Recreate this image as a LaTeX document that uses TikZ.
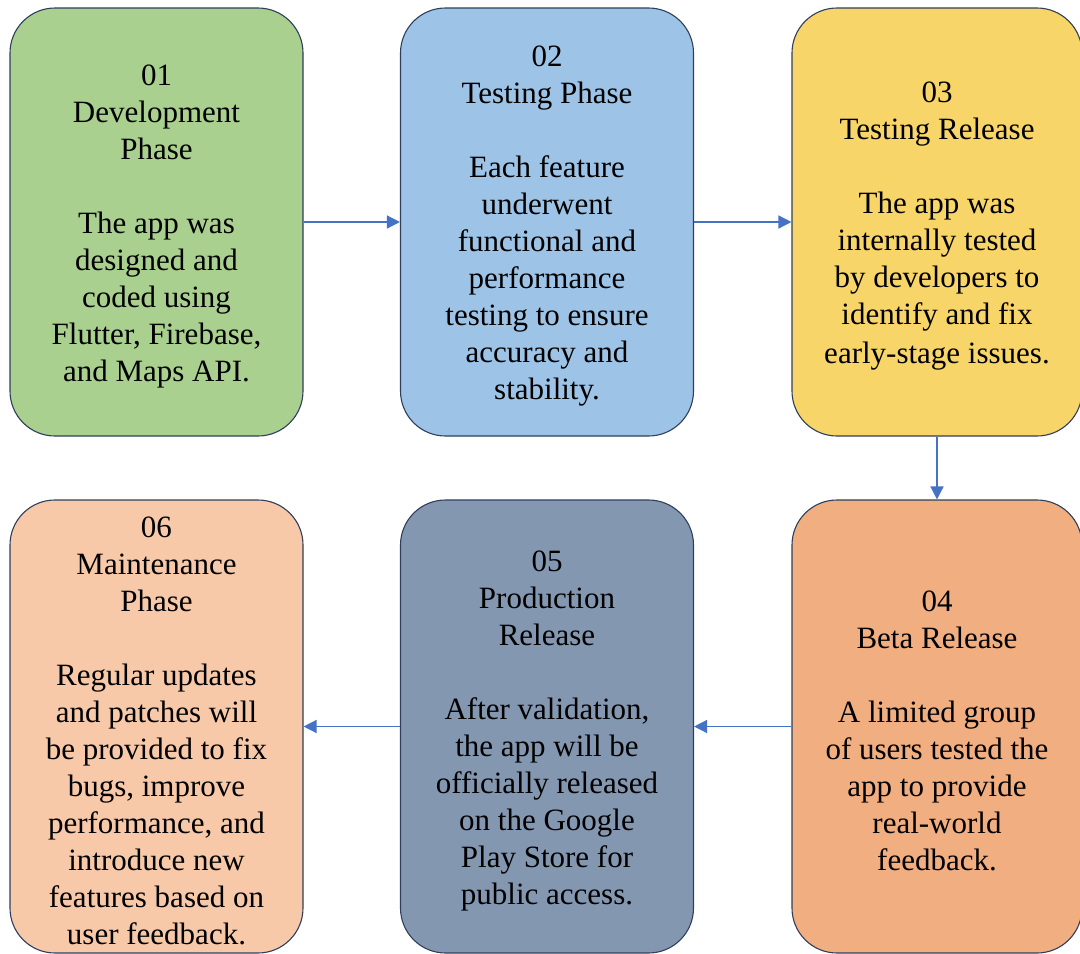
\documentclass[tikz,border=0pt]{standalone}
\usepackage{fontspec}
\setmainfont{Liberation Serif}
\usetikzlibrary{arrows.meta}
\definecolor{edgeblue}{HTML}{2F3E5C}
\definecolor{arrowblue}{HTML}{4472C4}
\definecolor{devgreen}{HTML}{A9D08E}
\definecolor{testblue}{HTML}{9DC3E6}
\definecolor{relyellow}{HTML}{F8D568}
\definecolor{betaorange}{HTML}{F1AE80}
\definecolor{prodslate}{HTML}{8497B0}
\definecolor{maintpeach}{HTML}{F7C9A9}
\tikzset{
  phasebox/.style={draw=edgeblue, line width=1.1pt, rounded corners=45pt,
    minimum width=293pt, inner sep=0pt},
  toprow/.style={minimum height=428pt},
  botrow/.style={minimum height=453pt},
  phasetext/.style={align=center, inner sep=0pt, yshift=-4pt,
    font=\fontsize{31}{37}\selectfont},
  flow/.style={draw=arrowblue, line width=1.4pt,
    -{Triangle[length=13pt,width=13pt]}}
}
\begin{document}
\begin{tikzpicture}[x=1pt,y=-1pt]
\useasboundingbox (0,0) rectangle (1080,954);
% top row boxes
\node[phasebox,toprow,fill=devgreen] (p1) at (156.5,222) {};
\node[phasebox,toprow,fill=testblue] (p2) at (547,222) {};
\node[phasebox,toprow,fill=relyellow,minimum width=290pt] (p3) at (937,222) {};
% bottom row boxes
\node[phasebox,botrow,fill=betaorange,minimum width=290pt] (p4) at (937,726.5) {};
\node[phasebox,botrow,fill=prodslate] (p5) at (547,726.5) {};
\node[phasebox,botrow,fill=maintpeach] (p6) at (156.5,726.5) {};
% box texts
\node[phasetext] (t1) at (p1.center)
  {01\\Development\\Phase\\[37pt]The app was\\designed and\\coded using\\Flutter, Firebase,\\and Maps API.};
\node[phasetext] (t2) at (p2.center)
  {02\\Testing Phase\\[37pt]Each feature\\underwent\\functional and\\performance\\testing to ensure\\accuracy and\\stability.};
\node[phasetext] (t3) at (p3.center)
  {03\\Testing Release\\[37pt]The app was\\internally tested\\by developers to\\identify and fix\\[2pt]early-stage issues.};
\node[phasetext] (t4) at (p4.center)
  {04\\Beta Release\\[37pt]A limited group\\of users tested the\\app to provide\\real-world\\feedback.};
\node[phasetext] (t5) at (p5.center)
  {05\\Production\\Release\\[37pt]After validation,\\the app will be\\officially released\\on the Google\\Play Store for\\public access.};
\node[phasetext] (t6) at (p6.center)
  {06\\Maintenance\\Phase\\[37pt]Regular updates\\and patches will\\be provided to fix\\bugs, improve\\performance, and\\introduce new\\features based on\\user feedback.};
% connectors
\draw[flow] (p1.east) -- (p2.west);
\draw[flow] (p2.east) -- (p3.west);
\draw[flow] (p3.south) -- (p4.north);
\draw[flow] (p4.west) -- (p5.east);
\draw[flow] (p5.west) -- (p6.east);
\end{tikzpicture}
\end{document}
